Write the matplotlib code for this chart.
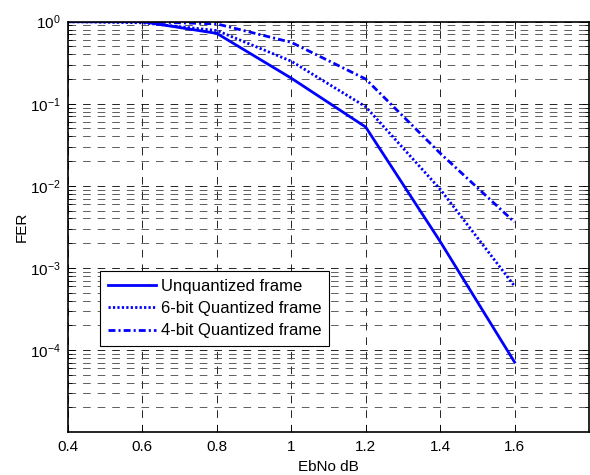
import matplotlib
matplotlib.use("Agg")
import matplotlib.pyplot as plt
from matplotlib.ticker import LogLocator, NullFormatter

plt.rcParams['font.family'] = ['Liberation Sans', 'DejaVu Sans']
plt.rcParams['mathtext.fontset'] = 'custom'
plt.rcParams['mathtext.rm'] = 'Liberation Sans'
plt.rcParams['lines.scale_dashes'] = False

# data
ebno = [0.4, 0.6, 0.8, 1.0, 1.2, 1.4, 1.6]
fer_unq = [1.0, 1.0, 0.72, 0.205, 0.052, 0.0021, 7.1e-5]
fer_6bit = [1.0, 0.97, 0.78, 0.33, 0.092, 0.0091, 6.0e-4]
fer_4bit = [1.0, 1.0, 0.94, 0.56, 0.20, 0.025, 3.6e-3]
labels = ['Unquantized frame', '6-bit Quantized frame', '4-bit Quantized frame']
xticks = [0.4, 0.6, 0.8, 1.0, 1.2, 1.4, 1.6]
xticklabels = ['0.4', '0.6', '0.8', '1', '1.2', '1.4', '1.6']
yticks = [1e-4, 1e-3, 1e-2, 1e-1, 1]

fig = plt.figure(figsize=(5.9, 4.75), dpi=100)
ax = fig.add_axes([68/590, 43/475, 521/590, 410.3/475])

ax.semilogy(ebno, fer_unq, '-', color='#0000ff', lw=2, label=labels[0])
ax.semilogy(ebno, fer_6bit, ':', color='#0000ff', lw=2,
            dashes=(1.6, 1.6), label=labels[1])
ax.semilogy(ebno, fer_4bit, '-.', color='#0000ff', lw=2,
            dashes=(5, 2.2, 1.5, 2.2), label=labels[2])

ax.set_xlim(0.4, 1.8)
ax.set_ylim(1e-5, 1)
ax.set_xticks(xticks)
ax.set_xticklabels(xticklabels)
ax.set_yticks(yticks)
ax.yaxis.set_minor_locator(LogLocator(base=10, subs=range(2, 10), numticks=20))
ax.yaxis.set_minor_formatter(NullFormatter())

ax.tick_params(which='both', direction='in', top=True, right=True,
               labelsize=11, colors='black')
ax.tick_params(which='major', length=5, width=0.6)
ax.tick_params(which='minor', length=3, width=0.6)
ax.tick_params(axis='x', pad=6)
ax.tick_params(axis='y', pad=5)

dash = (0, (5.5, 5))
ax.grid(True, which='major', axis='both', color='black', lw=0.6, ls=dash)
ax.grid(True, which='minor', axis='y', color='#444444', lw=0.6, ls=dash)

for s in ax.spines.values():
    s.set_linewidth(1.2)

ax.set_xlabel('EbNo dB', fontsize=11, labelpad=4)
ax.set_ylabel('FER', fontsize=11, labelpad=1)

leg = ax.legend(loc='lower left', bbox_to_anchor=(32/521, 86/410.3),
                borderaxespad=0, fontsize=12, fancybox=False, framealpha=1,
                edgecolor='black', handlelength=2.9, handletextpad=0.3,
                borderpad=0.45, labelspacing=0.44)
leg.get_frame().set_linewidth(0.8)

fig.savefig('out.png', dpi=100)
